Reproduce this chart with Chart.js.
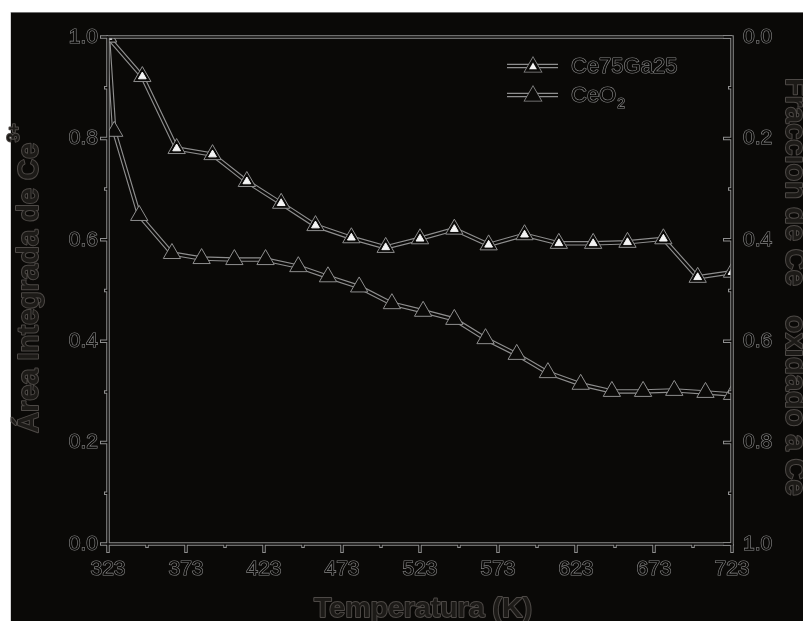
<!DOCTYPE html>
<html>
<head>
<meta charset="utf-8">
<script src="https://cdn.jsdelivr.net/npm/chart.js@4.4.1/dist/chart.umd.min.js"></script>
<style>
  html, body { margin: 0; padding: 0; background: #fff; }
  #grafico { display: block; }
</style>
</head>
<body>
<canvas id="grafico" width="803" height="621"></canvas>
<script>
// Área integrada de Ce3+ (normalizada) em função da temperatura
const tempCe75Ga25 = [323, 345, 367, 390, 412, 434, 456, 479, 501, 523, 545, 567, 590, 612, 634, 656, 679, 701, 723];
const areaCe75Ga25 = [1.0, 0.922, 0.780, 0.768, 0.715, 0.672, 0.628, 0.604, 0.585, 0.602, 0.621, 0.590, 0.610, 0.593, 0.593, 0.595, 0.602, 0.526, 0.536];

const tempCeO2 = [323, 327, 343, 364, 383, 404, 424, 445, 464, 484, 505, 525, 545, 565, 585, 605, 626, 646, 666, 686, 706, 723];
const areaCeO2 = [1.0, 0.814, 0.648, 0.573, 0.563, 0.561, 0.561, 0.547, 0.527, 0.507, 0.474, 0.459, 0.443, 0.405, 0.374, 0.338, 0.315, 0.301, 0.301, 0.303, 0.299, 0.295];

// marcas dos eixos
const ticksTemp = [323, 373, 423, 473, 523, 573, 623, 673, 723];
const ticksArea = [0.0, 0.2, 0.4, 0.6, 0.8, 1.0];
const ticksFraccion = [0.0, 0.2, 0.4, 0.6, 0.8, 1.0];

const FUNDO = '#0a0907';
const BORDA = '#8e8e8e';
const FONTE = "'Liberation Sans', Arial, sans-serif";

function pontos(xs, ys) {
    return xs.map((x, i) => ({ x: x, y: ys[i] }));
}

// cada série = borda cinza larga + miolo escuro + triângulos por cima
function linhaBorda(dados, ordem) {
    return { data: dados, borderColor: BORDA, borderWidth: 4.5, pointRadius: 0, order: ordem, clip: 0 };
}
function linhaMiolo(dados, ordem) {
    return { data: dados, borderColor: FUNDO, borderWidth: 2.2, pointRadius: 0, order: ordem, clip: 0 };
}
function marcadores(dados, raio, cor, corBorda, ordem) {
    return {
        data: dados, showLine: false, pointStyle: 'triangle', pointRadius: raio,
        pointBackgroundColor: cor, pointBorderColor: corBorda, pointBorderWidth: 1,
        order: ordem, clip: 0
    };
}

const dadosCe75 = pontos(tempCe75Ga25, areaCe75Ga25);
const dadosCeO2 = pontos(tempCeO2, areaCeO2);

// texto com contorno cinza
function textoContorno(ctx, txt, x, y, fonte, contorno, preenchimento, espessura) {
    ctx.font = fonte;
    ctx.lineWidth = espessura || 2;
    ctx.lineJoin = 'round';
    ctx.strokeStyle = contorno;
    ctx.strokeText(txt, x, y);
    ctx.fillStyle = preenchimento;
    ctx.fillText(txt, x, y);
    return ctx.measureText(txt).width;
}

function trianguloLegenda(ctx, x, y, r, cor) {
    ctx.beginPath();
    ctx.moveTo(x, y - r);
    ctx.lineTo(x + r * Math.sin(Math.PI * 2 / 3), y - r * Math.cos(Math.PI * 2 / 3));
    ctx.lineTo(x - r * Math.sin(Math.PI * 2 / 3), y - r * Math.cos(Math.PI * 2 / 3));
    ctx.closePath();
    ctx.fillStyle = cor;
    ctx.fill();
}

const fundoPagina = {
    id: 'fundoPagina',
    beforeDraw(chart) {
        const ctx = chart.ctx;
        ctx.save();
        ctx.fillStyle = '#ffffff';
        ctx.fillRect(0, 0, chart.width, chart.height);
        ctx.fillStyle = FUNDO;
        ctx.fillRect(10, 12, chart.width - 10, chart.height - 12);
        ctx.fillStyle = '#707070';
        ctx.fillRect(10, 12, chart.width - 10, 1);
        ctx.fillStyle = '#d4d4d4';
        ctx.fillRect(10, 12, 1, chart.height - 12);
        ctx.restore();
    }
};

const moldura = {
    id: 'moldura',
    afterDatasetsDraw(chart) {
        const { ctx, chartArea: a, scales } = chart;
        const tracos = [];   // [x, y, dx, dy, comprimento]

        ticksTemp.forEach((v, i) => {
            tracos.push([scales.x.getPixelForValue(v), a.bottom, 0, 1, 9]);
            if (i < ticksTemp.length - 1) {
                tracos.push([scales.x.getPixelForValue((v + ticksTemp[i + 1]) / 2), a.bottom, 0, 1, 4]);
            }
        });
        ticksArea.forEach((v, i) => {
            tracos.push([a.left, scales.y.getPixelForValue(v), -1, 0, 8]);
            if (i < ticksArea.length - 1) {
                tracos.push([a.left, scales.y.getPixelForValue((v + ticksArea[i + 1]) / 2), -1, 0, 4]);
            }
        });
        ticksFraccion.forEach((v, i) => {
            tracos.push([a.right, scales.y2.getPixelForValue(v), -1, 0, 9]);
            if (i < ticksFraccion.length - 1) {
                tracos.push([a.right, scales.y2.getPixelForValue((v + ticksFraccion[i + 1]) / 2), -1, 0, 4]);
            }
        });

        ctx.save();
        // passada cinza
        ctx.strokeStyle = BORDA;
        ctx.lineWidth = 3.5;
        ctx.strokeRect(a.left, a.top, a.right - a.left, a.bottom - a.top);
        ctx.beginPath();
        tracos.forEach(t => {
            ctx.moveTo(t[0], t[1]);
            ctx.lineTo(t[0] + t[2] * t[4], t[1] + t[3] * t[4]);
        });
        ctx.stroke();
        // passada escura
        ctx.strokeStyle = FUNDO;
        ctx.lineWidth = 1.5;
        ctx.strokeRect(a.left, a.top, a.right - a.left, a.bottom - a.top);
        ctx.beginPath();
        tracos.forEach(t => {
            ctx.moveTo(t[0], t[1]);
            ctx.lineTo(t[0] + t[2] * (t[4] - 1), t[1] + t[3] * (t[4] - 1));
        });
        ctx.stroke();
        ctx.restore();
    }
};

const titulosLegenda = {
    id: 'titulosLegenda',
    afterDraw(chart) {
        const ctx = chart.ctx;
        const contorno = '#4d4946';
        const miolo = '#1c1a17';
        const negrito = 'bold 29px ' + FONTE;
        const sobrescrito = 'bold 16px ' + FONTE;

        ctx.save();
        ctx.textBaseline = 'alphabetic';

        // eixo x
        ctx.textAlign = 'center';
        textoContorno(ctx, 'Temperatura (K)', 423, 617, 'bold 28.5px ' + FONTE, contorno, miolo);

        // eixo y esquerdo
        ctx.save();
        ctx.translate(38, 433);
        ctx.rotate(-Math.PI / 2);
        ctx.textAlign = 'left';
        let w = textoContorno(ctx, 'Área Integrada de Ce', 0, 0, negrito, contorno, miolo);
        textoContorno(ctx, '3+', w + 1, -19, sobrescrito, contorno, miolo);
        ctx.restore();

        // eixo y direito
        ctx.save();
        ctx.translate(786, 78);
        ctx.rotate(Math.PI / 2);
        ctx.textAlign = 'left';
        let p = textoContorno(ctx, 'Fracción de Ce', 0, 0, negrito, contorno, miolo);
        p += textoContorno(ctx, '3+', p + 1, -19, sobrescrito, contorno, miolo) + 3;
        p += textoContorno(ctx, ' oxidado a Ce', p, 0, negrito, contorno, miolo);
        textoContorno(ctx, '4+', p + 1, -19, sobrescrito, contorno, miolo);
        ctx.restore();

        // legenda
        const linhas = [
            { y: 66, base: 73, texto: 'Ce75Ga25', sub: '', interno: true },
            { y: 95, base: 102, texto: 'CeO', sub: '2', interno: false }
        ];
        linhas.forEach(l => {
            ctx.strokeStyle = BORDA;
            ctx.lineWidth = 4.5;
            ctx.beginPath();
            ctx.moveTo(507, l.y);
            ctx.lineTo(558, l.y);
            ctx.stroke();
            ctx.strokeStyle = FUNDO;
            ctx.lineWidth = 2.2;
            ctx.beginPath();
            ctx.moveTo(505, l.y);
            ctx.lineTo(560, l.y);
            ctx.stroke();
            trianguloLegenda(ctx, 533, l.y + 1, 11, BORDA);
            trianguloLegenda(ctx, 533, l.y + 1, 9.5, FUNDO);
            if (l.interno) trianguloLegenda(ctx, 533, l.y + 1, 4.5, '#f4f4f4');

            ctx.textAlign = 'left';
            const lw = textoContorno(ctx, l.texto, 571, l.base, '22px ' + FONTE, '#888888', FUNDO, 1.2);
            if (l.sub) textoContorno(ctx, l.sub, 571 + lw + 1, l.base + 6, '14px ' + FONTE, '#888888', FUNDO, 1.2);
        });
        ctx.restore();
    }
};

function eixoTicks(padding) {
    return {
        color: FUNDO,
        textStrokeColor: '#8a8a8a',
        textStrokeWidth: 1.2,
        font: { family: FONTE, size: 21 },
        padding: padding,
        autoSkip: false,
        maxRotation: 0
    };
}

new Chart(document.getElementById('grafico'), {
    type: 'line',
    data: {
        datasets: [
            linhaBorda(dadosCe75, 10),
            linhaBorda(dadosCeO2, 9),
            linhaMiolo(dadosCe75, 8),
            linhaMiolo(dadosCeO2, 7),
            marcadores(dadosCeO2, 10, FUNDO, BORDA, 6),
            marcadores(dadosCe75, 10, FUNDO, BORDA, 5),
            marcadores(dadosCe75, 4.5, '#f4f4f4', '#f4f4f4', 4)
        ]
    },
    options: {
        responsive: false,
        devicePixelRatio: 1,
        animation: false,
        layout: { padding: { top: 37, left: 0, right: 0, bottom: 0 } },
        plugins: {
            legend: { display: false },
            tooltip: { enabled: false }
        },
        elements: { line: { tension: 0 } },
        scales: {
            x: {
                type: 'linear',
                position: 'bottom',
                min: 323,
                max: 723,
                afterFit: s => { s.height = 77; },
                afterBuildTicks: s => { s.ticks = ticksTemp.map(v => ({ value: v })); },
                grid: { display: false, drawTicks: false },
                border: { display: false },
                ticks: Object.assign(eixoTicks(13), { callback: v => String(v) })
            },
            y: {
                position: 'left',
                min: 0,
                max: 1,
                afterFit: s => { s.width = 108; },
                afterBuildTicks: s => { s.ticks = ticksArea.map(v => ({ value: v })); },
                grid: { display: false, drawTicks: false },
                border: { display: false },
                ticks: Object.assign(eixoTicks(10), { callback: v => v.toFixed(1) })
            },
            y2: {
                position: 'right',
                min: 0,
                max: 1,
                reverse: true,
                afterFit: s => { s.width = 71; },
                afterBuildTicks: s => { s.ticks = ticksFraccion.map(v => ({ value: v })); },
                grid: { display: false, drawTicks: false },
                border: { display: false },
                ticks: Object.assign(eixoTicks(11), { callback: v => v.toFixed(1) })
            }
        }
    },
    plugins: [fundoPagina, moldura, titulosLegenda]
});
</script>
</body>
</html>
